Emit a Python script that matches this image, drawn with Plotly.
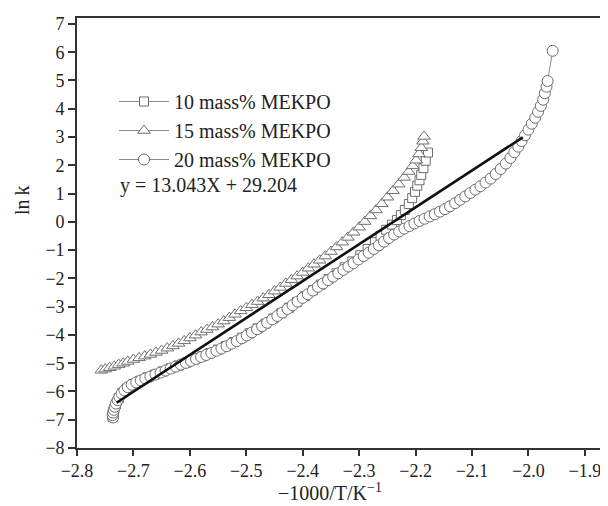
import plotly.graph_objects as go

# ---- data ----
sq_x = [-2.737, -2.736, -2.734, -2.731, -2.726, -2.720, -2.712, -2.700, -2.688, -2.675,
        -2.662, -2.648, -2.634, -2.620, -2.606, -2.592, -2.578, -2.564, -2.550, -2.536,
        -2.522, -2.508, -2.494, -2.480, -2.466, -2.452, -2.438, -2.424, -2.410, -2.396,
        -2.382, -2.368, -2.354, -2.340, -2.326, -2.312, -2.298, -2.285, -2.272, -2.262,
        -2.252, -2.242, -2.233, -2.226, -2.219, -2.212, -2.206, -2.201, -2.197, -2.193,
        -2.190, -2.186, -2.182, -2.178]
sq_y = [-6.90, -6.78, -6.62, -6.46, -6.24, -6.06, -5.90, -5.74, -5.62, -5.50,
        -5.40, -5.29, -5.18, -5.08, -4.98, -4.87, -4.76, -4.64, -4.52, -4.39,
        -4.25, -4.10, -3.94, -3.77, -3.60, -3.42, -3.23, -3.04, -2.84, -2.63,
        -2.42, -2.22, -2.02, -1.82, -1.61, -1.40, -1.18, -0.96, -0.72, -0.50,
        -0.28, -0.10, 0.06, 0.24, 0.42, 0.63, 0.84, 1.06, 1.28, 1.47,
        1.66, 1.90, 2.16, 2.45]

tri_x = [-2.757, -2.750, -2.742, -2.734, -2.726, -2.718, -2.710, -2.700, -2.690, -2.680,
         -2.670, -2.660, -2.650, -2.640, -2.630, -2.620, -2.610, -2.600, -2.590, -2.580,
         -2.570, -2.560, -2.550, -2.540, -2.530, -2.520, -2.510, -2.500, -2.490, -2.480,
         -2.470, -2.460, -2.450, -2.440, -2.430, -2.420, -2.410, -2.400, -2.390, -2.380,
         -2.370, -2.360, -2.350, -2.340, -2.330, -2.320, -2.310, -2.300, -2.290, -2.280,
         -2.270, -2.260, -2.250, -2.240, -2.230, -2.220, -2.212, -2.205, -2.199, -2.194,
         -2.190, -2.187, -2.185]
tri_y = [-5.25, -5.21, -5.16, -5.11, -5.05, -5.00, -4.94, -4.87, -4.81, -4.75,
         -4.69, -4.62, -4.55, -4.47, -4.39, -4.30, -4.21, -4.11, -4.01, -3.90,
         -3.81, -3.72, -3.62, -3.51, -3.39, -3.27, -3.15, -3.04, -2.93, -2.82,
         -2.70, -2.58, -2.45, -2.32, -2.18, -2.05, -1.92, -1.79, -1.64, -1.50,
         -1.36, -1.21, -1.05, -0.89, -0.72, -0.55, -0.37, -0.19, 0.01, 0.21,
         0.42, 0.64, 0.87, 1.10, 1.33, 1.57, 1.78, 1.98, 2.18, 2.40,
         2.62, 2.85, 3.02]

cir_x = [-2.736, -2.737, -2.736, -2.735, -2.733, -2.731, -2.728, -2.725, -2.721, -2.716,
         -2.710, -2.703, -2.695, -2.687, -2.679, -2.670, -2.661, -2.652, -2.643, -2.634,
         -2.625, -2.616, -2.607, -2.598, -2.589, -2.580, -2.571, -2.562, -2.553, -2.544,
         -2.535, -2.526, -2.517, -2.508, -2.499, -2.490, -2.481, -2.472, -2.463, -2.454,
         -2.445, -2.436, -2.427, -2.418, -2.409, -2.400, -2.391, -2.382, -2.373, -2.364,
         -2.355, -2.346, -2.337, -2.328, -2.319, -2.310, -2.301, -2.292, -2.283, -2.274,
         -2.265, -2.256, -2.247, -2.238, -2.229, -2.220, -2.211, -2.202, -2.193, -2.184,
         -2.175, -2.166, -2.157, -2.148, -2.139, -2.130, -2.121, -2.112, -2.103, -2.094,
         -2.085, -2.076, -2.067, -2.058, -2.049, -2.040, -2.032, -2.025, -2.018, -2.012,
         -2.006, -2.000, -1.994, -1.988, -1.983, -1.978, -1.974, -1.971, -1.968, -1.966,
         -1.957]
cir_y = [-6.92, -6.84, -6.75, -6.65, -6.54, -6.43, -6.31, -6.19, -6.07, -5.96,
         -5.85, -5.76, -5.68, -5.61, -5.54, -5.47, -5.40, -5.33, -5.26, -5.19,
         -5.12, -5.05, -4.99, -4.92, -4.85, -4.78, -4.71, -4.64, -4.56, -4.48,
         -4.40, -4.31, -4.22, -4.12, -4.02, -3.91, -3.80, -3.69, -3.57, -3.45,
         -3.33, -3.21, -3.08, -2.95, -2.82, -2.69, -2.56, -2.43, -2.30, -2.18,
         -2.06, -1.94, -1.82, -1.70, -1.58, -1.46, -1.33, -1.21, -1.09, -0.96,
         -0.83, -0.70, -0.57, -0.45, -0.34, -0.24, -0.15, -0.06, 0.03, 0.11,
         0.19, 0.27, 0.36, 0.45, 0.55, 0.66, 0.78, 0.90, 1.02, 1.14,
         1.26, 1.39, 1.53, 1.69, 1.87, 2.06, 2.26, 2.46, 2.66, 2.86,
         3.06, 3.26, 3.47, 3.68, 3.89, 4.10, 4.32, 4.55, 4.78, 4.98,
         6.05]

fit_x = [-2.73, -2.01]
fit_y = [-6.40, 2.99]

series_names = ["10 mass% MEKPO", "15 mass% MEKPO", "20 mass% MEKPO"]
equation_text = "y = 13.043X + 29.204"

x_tickvals = [-2.8, -2.7, -2.6, -2.5, -2.4, -2.3, -2.2, -2.1, -2.0, -1.9]
x_ticktext = ["\u22122.8", "\u22122.7", "\u22122.6", "\u22122.5", "\u22122.4",
              "\u22122.3", "\u22122.2", "\u22122.1", "\u22122.0", "\u22121.9"]
y_tickvals = [-8, -7, -6, -5, -4, -3, -2, -1, 0, 1, 2, 3, 4, 5, 6, 7]
y_ticktext = ["\u22128", "\u22127", "\u22126", "\u22125", "\u22124", "\u22123", "\u22122",
              "\u22121", "0", "1", "2", "3", "4", "5", "6", "7"]

FONT = "Liberation Serif, Times New Roman, serif"
MK = "#6e6e6e"
LN = "#8a8a8a"

# The page body has an 8px margin, so the figure is drawn 8px right/down.
OFF = 8
W, H = 608 - OFF, 506 - OFF
L, R, T = 77 - OFF, 0, 18 - OFF
B = H - (448 - OFF)
PW, PH = W - L - R, H - T - B


def px_x(p):  # window pixel -> paper x
    return (p - OFF - L) / PW


def px_y(p):  # window pixel -> paper y
    return (H - B - (p - OFF)) / PH


fig = go.Figure()
for xs, ys, name, sym, size in [
    (sq_x, sq_y, series_names[0], "square", 9),
    (tri_x, tri_y, series_names[1], "triangle-up", 11),
    (cir_x, cir_y, series_names[2], "circle", 11),
]:
    fig.add_trace(go.Scatter(
        x=xs, y=ys, name=name, mode="lines+markers",
        line=dict(color=LN, width=1),
        marker=dict(symbol=sym, size=size, color="white",
                    line=dict(color=MK, width=1)),
    ))

fig.add_trace(go.Scatter(x=fit_x, y=fit_y, mode="lines", showlegend=False,
                         line=dict(color="#111111", width=2.6)))

fig.add_annotation(text=equation_text, xref="paper", yref="paper",
                   x=px_x(118), y=px_y(185), xanchor="left", yanchor="middle",
                   showarrow=False, font=dict(family=FONT, size=20, color="#222"))
fig.add_annotation(text="ln\u2009k", xref="paper", yref="paper",
                   x=px_x(22), y=px_y(200), xanchor="center", yanchor="middle",
                   textangle=-90, showarrow=False, font=dict(family=FONT, size=20, color="#222"))
fig.add_annotation(text="\u22121000/T/K<sup>\u22121</sup>", xref="paper", yref="paper",
                   x=px_x(330), y=px_y(492), xanchor="center", yanchor="middle",
                   showarrow=False, font=dict(family=FONT, size=20, color="#222"))

fig.update_layout(
    width=W, height=H,
    margin=dict(l=L, r=R, t=T, b=B, autoexpand=False),
    paper_bgcolor="white", plot_bgcolor="white",
    font=dict(family=FONT, size=18, color="#222"),
    legend=dict(x=px_x(114), y=px_y(82), xanchor="left", yanchor="top",
                bgcolor="rgba(0,0,0,0)", font=dict(family=FONT, size=20, color="#222"),
                itemwidth=50, tracegroupgap=0),
    xaxis=dict(range=[-2.8, -1.859], tickvals=x_tickvals, ticktext=x_ticktext,
               automargin=False,
               showgrid=False, zeroline=False, showline=True, linecolor="#333",
               linewidth=1.6, mirror=True, ticks="outside", ticklen=6, tickwidth=1.5,
               tickcolor="#333", tickfont=dict(family=FONT, size=18, color="#222")),
    yaxis=dict(range=[-8, 7.21], tickvals=y_tickvals, ticktext=y_ticktext,
               automargin=False,
               showgrid=False, zeroline=False, showline=True, linecolor="#333",
               linewidth=1.6, ticks="outside", ticklen=7, tickwidth=1.5,
               tickcolor="#333", tickfont=dict(family=FONT, size=18, color="#222")),
)

fig.write_html("out.html")
